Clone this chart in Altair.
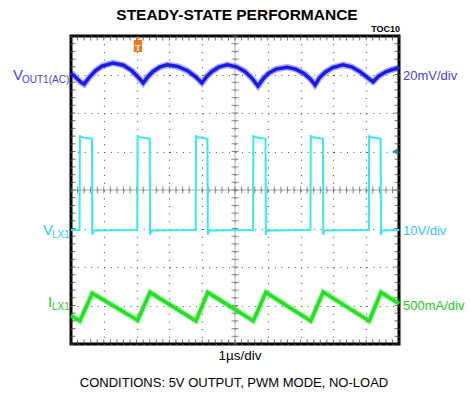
import altair as alt
import pandas as pd

# ---------------- data (x in µs = divisions, y in divisions) ----------------
vout_x = [0.00, 0.15, 0.30, 0.40, 0.55, 0.75, 0.95, 1.28, 1.60, 1.85, 2.05, 2.20,
          2.35, 2.50, 2.70, 2.93, 3.25, 3.55, 3.80, 3.99,
          4.14, 4.30, 4.50, 4.76, 5.05, 5.30, 5.52, 5.70,
          5.85, 6.02, 6.25, 6.59, 6.85, 7.10, 7.30, 7.44,
          7.58, 7.75, 7.98, 8.29, 8.55, 8.80, 9.02, 9.21,
          9.38, 9.60, 9.80, 10.00]
vout_y = [3.04, 2.92, 2.80, 2.75, 2.92, 3.10, 3.22, 3.30, 3.24, 3.10, 2.93, 2.78,
          2.95, 3.08, 3.19, 3.25, 3.21, 3.10, 2.94, 2.78,
          2.95, 3.08, 3.19, 3.25, 3.20, 3.08, 2.90, 2.70,
          2.88, 3.03, 3.14, 3.19, 3.14, 3.03, 2.88, 2.73,
          2.92, 3.06, 3.18, 3.25, 3.20, 3.08, 2.93, 2.81,
          2.96, 3.07, 3.13, 3.17]

lx_x = [0.00, 0.26, 0.27, 0.29, 0.64, 0.65, 0.68, 0.72,
        2.02, 2.03, 2.05, 2.40, 2.41, 2.44, 2.48,
        3.80, 3.81, 3.83, 4.16, 4.17, 4.20, 4.24,
        5.55, 5.56, 5.58, 5.93, 5.94, 5.97, 6.01,
        7.30, 7.31, 7.33, 7.68, 7.69, 7.72, 7.76,
        9.08, 9.09, 9.11, 9.44, 9.45, 9.48, 9.52, 10.00]
lx_y = [-1.04, -1.04, 1.42, 1.38, 1.33, -1.16, -1.07, -1.05,
        -1.04, 1.42, 1.38, 1.33, -1.16, -1.07, -1.05,
        -1.04, 1.42, 1.38, 1.33, -1.16, -1.07, -1.05,
        -1.04, 1.42, 1.38, 1.33, -1.16, -1.07, -1.05,
        -1.04, 1.42, 1.38, 1.33, -1.16, -1.07, -1.05,
        -1.04, 1.42, 1.38, 1.33, -1.16, -1.07, -1.05, -1.04]

il_x = [0.00, 0.27, 0.65, 2.03, 2.41, 3.81, 4.17, 5.56, 5.94, 7.31, 7.69, 9.09, 9.45, 10.00]
il_y = [-3.26, -3.40, -2.68, -3.38, -2.66, -3.40, -2.66, -3.40, -2.66, -3.40, -2.65, -3.40, -2.66, -2.95]

grid_x = list(range(0, 11))
grid_y = list(range(-4, 5))
minor_x = [round(i * 0.2, 1) for i in range(51)]
minor_y = [round(-4 + i * 0.2, 1) for i in range(41)]

FONT = "Liberation Sans"
BLUE, BLUE_T = "#1a1ae8", "#4444d8"
CYAN, CYAN_T = "#34e8f4", "#2ccbec"
GREEN, GREEN_T = "#22e022", "#22c822"

xs = alt.Scale(domain=[0, 10], nice=False, zero=False)
ys = alt.Scale(domain=[-4, 4], nice=False, zero=False)
xaxis = alt.Axis(values=grid_x, grid=True, labels=False, ticks=False, domain=False, title=None,
                 gridDash=[1, 6.7], gridColor="#555", gridWidth=1.2)
yaxis = alt.Axis(values=grid_y, grid=True, labels=False, ticks=False, domain=False, title=None,
                 gridDash=[1, 5.56], gridColor="#555", gridWidth=1.2)
X = alt.X("x:Q", scale=xs, axis=xaxis)
Y = alt.Y("y:Q", scale=ys, axis=yaxis)


def trace(xv, yv, color, width, opacity=1.0):
    df = pd.DataFrame({"x": xv, "y": yv, "i": range(len(xv))})
    return alt.Chart(df).mark_line(color=color, strokeWidth=width, strokeJoin="miter",
                                   opacity=opacity).encode(x=X, y=Y, order="i:Q")


def label(text, x, y, dx=0, dy=0, color="black", size=12, weight="normal", align="center",
          baseline="middle"):
    df = pd.DataFrame({"x": [x], "y": [y], "t": [text]})
    return alt.Chart(df).mark_text(dx=dx, dy=dy, color=color, fontSize=size, fontWeight=weight,
                                   align=align, baseline=baseline, font=FONT).encode(
        x=X, y=Y, text="t:N")


# center cross lines with minor ticks
hline = alt.Chart(pd.DataFrame({"y": [0]})).mark_rule(color="#b0b0b0", strokeWidth=1).encode(y=Y)
vline = alt.Chart(pd.DataFrame({"x": [5]})).mark_rule(color="#b0b0b0", strokeWidth=1).encode(x=X)
cx = alt.Chart(pd.DataFrame({"x": minor_x, "y": [0] * len(minor_x)})).mark_tick(
    orient="vertical", size=7, thickness=1, color="#555").encode(x=X, y=Y)
cy = alt.Chart(pd.DataFrame({"y": minor_y, "x": [5] * len(minor_y)})).mark_tick(
    orient="horizontal", size=7, thickness=1, color="#555").encode(x=X, y=Y)

# border ticks (inside the frame)
bt = alt.Chart(pd.DataFrame({"x": minor_x, "y": [4] * len(minor_x)})).mark_tick(
    orient="vertical", size=5, thickness=1, color="#333", yOffset=2).encode(x=X, y=Y)
bb = alt.Chart(pd.DataFrame({"x": minor_x, "y": [-4] * len(minor_x)})).mark_tick(
    orient="vertical", size=5, thickness=1, color="#333", yOffset=-2).encode(x=X, y=Y)
bl = alt.Chart(pd.DataFrame({"y": minor_y, "x": [0] * len(minor_y)})).mark_tick(
    orient="horizontal", size=5, thickness=1, color="#333", xOffset=2).encode(x=X, y=Y)
br = alt.Chart(pd.DataFrame({"y": minor_y, "x": [10] * len(minor_y)})).mark_tick(
    orient="horizontal", size=5, thickness=1, color="#333", xOffset=-2).encode(x=X, y=Y)

# trigger markers
trig = alt.Chart(pd.DataFrame({"x": [2.04], "y": [4]})).mark_point(
    shape="M-0.45,-1L0.45,-1L0,-0.65ZM-0.55,-0.6L0.55,-0.6L0.55,1L-0.55,1Z",
    size=225, filled=True, opacity=1, color="#f07a1a", yOffset=8.5).encode(x=X, y=Y)
trigT = label("T", 2.04, 4, dy=11.5, color="white", size=9, weight="bold")
lvl = alt.Chart(pd.DataFrame({"x": [10], "y": [1.0]})).mark_point(
    shape="triangle-left", size=40, filled=True, opacity=1, color="#1a9a9a", xOffset=-4).encode(x=X, y=Y)

texts = [
    label("STEADY-STATE PERFORMANCE", 5, 4, dx=2, dy=-21, size=15.5, weight="bold"),
    label("TOC10", 10, 4, dx=1, dy=-4, size=9, weight="bold", align="right", baseline="alphabetic"),
    label("V", 0, 3.0, dx=-58, dy=5.5, color=BLUE_T, size=15, align="left", baseline="alphabetic"),
    label("OUT1(AC)", 0, 3.0, dx=-49, dy=8.5, color=BLUE_T, size=10, align="left", baseline="alphabetic"),
    label("V", 0, -1.04, dx=-28, dy=5, color=CYAN_T, size=15, align="left", baseline="alphabetic"),
    label("LX1", 0, -1.04, dx=-19, dy=7.5, color=CYAN_T, size=10, align="left", baseline="alphabetic"),
    label("I", 0, -3.0, dx=-23, dy=1.5, color=GREEN_T, size=15, align="left", baseline="alphabetic"),
    label("LX1", 0, -3.0, dx=-19, dy=4, color=GREEN_T, size=10, align="left", baseline="alphabetic"),
    label("20mV/div", 10, 3.0, dx=4, dy=1.5, color=BLUE_T, size=13, align="left"),
    label("10V/div", 10, -1.04, dx=4, dy=1, color=CYAN_T, size=13, align="left"),
    label("500mA/div", 10, -3.0, dx=4, dy=0.5, color=GREEN_T, size=13, align="left"),
    label("1µs/div", 5, -4, dx=5, dy=12, size=13.5),
    label("CONDITIONS: 5V OUTPUT, PWM MODE, NO-LOAD", 5, -4, dx=-1, dy=38.5, size=13),
]

chart = alt.layer(
    hline, vline, cx, cy, bt, bb, bl, br,
    trace(lx_x, lx_y, CYAN, 2),
    trace(il_x, il_y, GREEN, 6, 0.35),
    trace(il_x, il_y, GREEN, 3.5),
    trace(vout_x, vout_y, BLUE, 6.5, 0.35),
    trace(vout_x, vout_y, BLUE, 3.5),
    trig, trigT, lvl, *texts,
).properties(
    width=328, height=308,
    padding={"left": 71, "top": 36, "right": 71, "bottom": 50},
    autosize="none", background="white",
).configure_view(stroke="black", strokeWidth=3)

chart.save("out.html", embed_options={"renderer": "svg", "actions": False})
